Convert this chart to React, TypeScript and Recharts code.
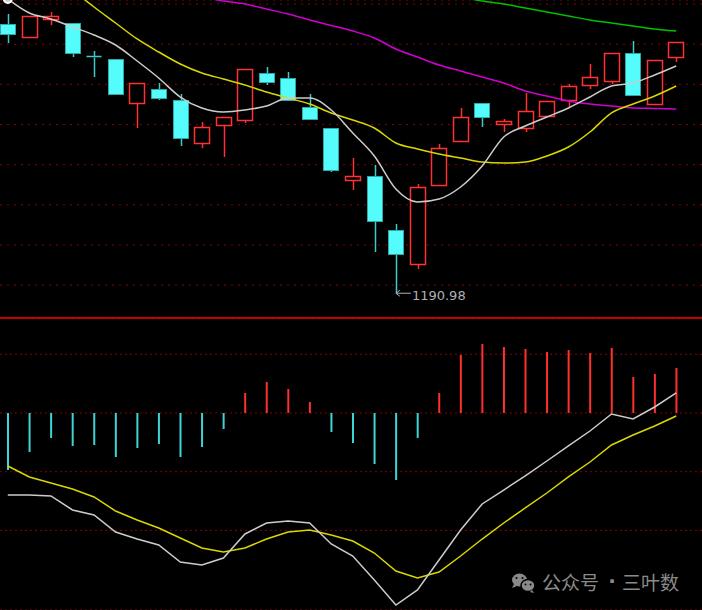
import React from 'react';
import { ComposedChart, Bar, Line, XAxis, YAxis, CartesianGrid, ReferenceDot, Cell } from 'recharts';

// trading days shown in the window
const days = ['01', '02', '03', '04', '05', '06', '07', '08', '09', '10', '11', '12', '13', '14', '15', '16',
  '17', '18', '19', '20', '21', '22', '23', '24', '25', '26', '27', '28', '29', '30', '31', '32'];

const opens = [1325.05, 1318.57, 1327.54, 1325.55, 1309.11, 1307.62, 1285.71, 1292.68, 1287.2, 1265.79, 1274.75,
  1277.24, 1300.65, 1298.16, 1283.71, 1273.26, 1247.36, 1249.35, 1222.46, 1205.53, 1244.87, 1266.78, 1285.71,
  1275.25, 1273.26, 1279.23, 1287.2, 1294.67, 1296.66, 1310.61, 1285.21, 1308.61];
const closes = [1320.07, 1329.03, 1329.03, 1310.61, 1308.86, 1290.19, 1295.67, 1288.2, 1268.28, 1273.75, 1278.73,
  1302.64, 1296.16, 1287.2, 1277.74, 1252.34, 1249.35, 1226.94, 1210.51, 1243.87, 1263.3, 1278.73, 1278.73,
  1276.74, 1281.72, 1286.7, 1294.17, 1298.65, 1310.61, 1289.69, 1307.12, 1316.08];
const highs = [1330.03, 1329.03, 1331.02, 1325.55, 1311.6, 1307.62, 1295.67, 1295.67, 1290.19, 1276.24, 1278.73,
  1302.64, 1303.63, 1301.14, 1290.19, 1273.26, 1258.32, 1254.83, 1225.45, 1245.37, 1265.29, 1283.22, 1285.71,
  1277.74, 1290.69, 1286.7, 1295.17, 1305.13, 1310.61, 1316.58, 1307.12, 1316.08];
const lows = [1315.59, 1318.57, 1324.55, 1308.61, 1298.65, 1290.19, 1273.26, 1287.2, 1264.29, 1263.3, 1258.81,
  1275.75, 1294.67, 1287.2, 1277.24, 1251.34, 1242.38, 1211.5, 1190.98, 1203.04, 1244.87, 1266.78, 1273.75,
  1271.26, 1271.26, 1279.23, 1283.71, 1292.68, 1295.17, 1289.69, 1285.21, 1306.12];

const ma5 = [1337.5, 1330.53, 1327.54, 1323.55, 1319.57, 1314.59, 1306.62, 1298.16, 1288.69, 1283.22, 1281.22,
  1282.22, 1284.21, 1288.2, 1288.2, 1282.22, 1270.77, 1259.31, 1242.88, 1236.4, 1237.9, 1243.87, 1254.33,
  1268.77, 1274.25, 1278.73, 1283.22, 1288.69, 1294.17, 1295.67, 1299.65, 1304.13];
const ma10 = [null, null, null, 1341.98, 1333.51, 1325.55, 1317.58, 1311.1, 1305.13, 1300.65, 1297.66, 1294.67,
  1291.18, 1288.2, 1285.21, 1280.73, 1277.24, 1273.26, 1265.79, 1262.8, 1260.31, 1258.32, 1256.32, 1255.83,
  1256.32, 1259.31, 1263.79, 1271.26, 1280.73, 1285.21, 1289.19, 1294.17];
const ma20 = [null, null, null, null, null, null, null, null, null, 1338.49, 1336.5, 1335.01, 1332.52, 1330.03,
  1327.04, 1324.3, 1321.56, 1318.08, 1312.6, 1308.61, 1304.63, 1301.64, 1298.65, 1295.67, 1291.68, 1289.19,
  1286.7, 1285.21, 1284.21, 1283.22, 1282.97, 1282.72];
const ma60 = [null, null, null, null, null, null, null, null, null, null, null, null, null, null, null, null,
  null, null, null, null, null, 1338.49, 1336.5, 1335.01, 1333.02, 1331.02, 1329.03, 1327.04, 1325.55, 1324.05,
  1322.56, 1321.56];

const dif = [-13.97, -13.97, -14.14, -16.52, -17.38, -20.27, -21.47, -22.49, -25.38, -25.89, -24.7, -20.61,
  -18.74, -18.4, -18.74, -22.32, -24.36, -28.45, -32.71, -30.15, -25.04, -19.93, -15.5, -13.12, -10.73, -8.18,
  -5.62, -3.07, -0.17, -1.02, 1.02, 3.41];
const dea = [-9.03, -10.9, -11.93, -12.95, -14.31, -16.7, -18.23, -19.59, -21.3, -23.0, -23.68, -23.0, -21.47,
  -20.27, -19.93, -20.78, -21.81, -23.85, -26.92, -28.11, -27.09, -24.36, -21.47, -18.74, -16.18, -13.63,
  -10.9, -8.35, -5.45, -3.75, -2.21, -0.51];
const macd = [-9.71, -6.64, -4.26, -5.62, -5.45, -7.5, -5.96, -5.28, -7.5, -5.79, -2.73, 3.41, 5.28, 4.09, 1.87,
  -3.24, -5.11, -8.69, -11.41, -4.26, 3.41, 9.88, 11.75, 11.24, 10.9, 10.39, 10.73, 10.22, 11.07, 6.13, 6.64, 7.67];

const priceTicks = [1195, 1215, 1235, 1255, 1275, 1295, 1315, 1335];
const macdTicks = [-20, -10, 0, 10];
const lowDay = '19';
const lowPrice = 1190.98;

const UP = '#ff3232';
const DOWN = '#54fcfc';
const GRID = '#8a0000';

const rows = days.map((day, i) => ({
  day,
  open: opens[i],
  close: closes[i],
  high: highs[i],
  low: lows[i],
  ma5: ma5[i],
  ma10: ma10[i],
  ma20: ma20[i],
  ma60: ma60[i],
  dif: dif[i],
  dea: dea[i],
  macd: macd[i],
}));

const Candle = (props: any) => {
  const { x, y, width, height, payload } = props;
  const top = Math.min(y, y + height);
  const bottom = Math.max(y, y + height);
  const { open, close, high, low } = payload;
  const span = high - low || 1;
  const toY = (p: number) => top + ((high - p) / span) * (bottom - top);
  const cx = Math.round(x + width / 2) + 0.5;
  const left = Math.round(x) + 0.5;
  const right = Math.round(x + width) - 0.5;
  const bTop = Math.round(toY(Math.max(open, close))) + 0.5;
  const bBot = Math.round(toY(Math.min(open, close))) + 0.5;
  const up = close > open;
  const col = up ? UP : DOWN;
  const wick = up ? UP : '#3ccaca';
  return (
    <g>
      {toY(high) < bTop && <line x1={cx} x2={cx} y1={toY(high)} y2={bTop} stroke={wick} strokeWidth={1.5} />}
      {toY(low) > bBot && <line x1={cx} x2={cx} y1={bBot} y2={toY(low)} stroke={wick} strokeWidth={1.5} />}
      {bBot - bTop < 1.5 ? (
        <line x1={left} x2={right} y1={bTop} y2={bTop} stroke={wick} strokeWidth={1.5} />
      ) : up ? (
        <rect x={left} y={bTop} width={right - left} height={bBot - bTop} fill="#000" stroke={col} strokeWidth={1.5} />
      ) : (
        <rect x={left} y={bTop} width={right - left} height={bBot - bTop} fill={col} stroke="#2ea8a8" strokeWidth={1} />
      )}
    </g>
  );
};

const LowMark = ({ viewBox, text }: any) => {
  const x = viewBox.x;
  const y = viewBox.y;
  return (
    <g>
      <path d={`M${x} ${y}h15M${x} ${y}l4 -3M${x} ${y}l4 3`} stroke="#b0b0b0" strokeWidth={1} fill="none" />
      <text x={x + 16} y={y + 2} dominantBaseline="central" fill="#b0b0b0" fontSize={13} fontFamily="DejaVu Sans">
        {text}
      </text>
    </g>
  );
};

const Watermark = () => (
  <svg width={200} height={40} style={{ position: 'absolute', left: 500, top: 560 }}>
    <ellipse cx={19.5} cy={20} rx={7.5} ry={6.5} fill="#8a8a8a" />
    <path d="M14 24l-2 4 5-2z" fill="#8a8a8a" />
    <circle cx={16.5} cy={18} r={1.1} fill="#000" />
    <circle cx={22.5} cy={18} r={1.1} fill="#000" />
    <ellipse cx={28} cy={25.5} rx={7} ry={6} fill="#8a8a8a" stroke="#000" strokeWidth={1.5} />
    <path d="M32 30l2 3-4-1z" fill="#8a8a8a" />
    <circle cx={25.5} cy={24.5} r={1} fill="#000" />
    <circle cx={30.5} cy={24.5} r={1} fill="#000" />
    <g fill="#8a8a8a" fontSize={19} fontFamily="Noto Sans CJK SC" dominantBaseline="central">
      <text x={42} y={21}>公众号</text>
      <text x={112} y={21} textAnchor="middle" fontFamily="DejaVu Sans" fontSize={20} fontWeight="bold">·</text>
      <text x={122} y={21}>三叶数</text>
    </g>
  </svg>
);

export default function App() {
  return (
    <div style={{ position: 'fixed', left: 0, top: 0, width: 702, height: 610, background: '#000', overflow: 'hidden' }}>
      <div style={{ position: 'absolute', left: 0, top: 0 }}>
        <ComposedChart width={702} height={318} data={rows} margin={{ top: 0, right: 0, bottom: 0, left: 0 }}>
          <CartesianGrid vertical={false} stroke={GRID} strokeDasharray="2 5" />
          <XAxis dataKey="day" hide padding={{ left: -3, right: 15 }} />
          <YAxis hide domain={[1178.64, 1337]} ticks={priceTicks} allowDataOverflow />
          <Bar dataKey={(d: any) => [d.low, d.high]} barSize={16} shape={<Candle />} isAnimationActive={false} />
          <Line type="monotone" dataKey="ma60" stroke="#00c000" strokeWidth={1.5} dot={false} isAnimationActive={false} />
          <Line type="monotone" dataKey="ma20" stroke="#d000d0" strokeWidth={1.5} dot={false} isAnimationActive={false} />
          <Line type="monotone" dataKey="ma10" stroke="#d8d800" strokeWidth={1.5} dot={false} isAnimationActive={false} />
          <Line type="monotone" dataKey="ma5" stroke="#cccccc" strokeWidth={1.5} dot={false} isAnimationActive={false} />
          <ReferenceDot
            x={lowDay}
            y={lowPrice}
            r={0}
            fill="none"
            stroke="none"
            label={(p: any) => <LowMark viewBox={p.viewBox} text={lowPrice.toFixed(2)} />}
          />
        </ComposedChart>
      </div>
      <div style={{ position: 'absolute', left: 0, top: 317, width: 702, height: 2, background: '#c80000' }} />
      <div style={{ position: 'absolute', left: 0, top: 318 }}>
        <ComposedChart width={702} height={292} data={rows} margin={{ top: 0, right: 0, bottom: 0, left: 0 }}>
          <CartesianGrid vertical={false} stroke={GRID} strokeDasharray="2 3" />
          <XAxis dataKey="day" hide padding={{ left: -3, right: 15 }} />
          <YAxis hide domain={[-33.56, 16.18]} ticks={macdTicks} allowDataOverflow />
          <Bar dataKey="macd" barSize={2} isAnimationActive={false}>
            {rows.map((r) => (
              <Cell key={r.day} fill={r.macd > 0 ? '#ff3030' : '#3fd4d4'} />
            ))}
          </Bar>
          <Line type="linear" dataKey="dea" stroke="#d8d800" strokeWidth={1.5} dot={false} isAnimationActive={false} />
          <Line type="linear" dataKey="dif" stroke="#cccccc" strokeWidth={1.5} dot={false} isAnimationActive={false} />
        </ComposedChart>
      </div>
      <Watermark />
    </div>
  );
}
